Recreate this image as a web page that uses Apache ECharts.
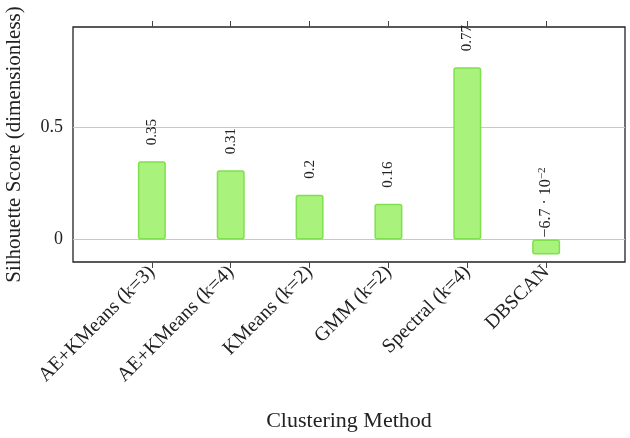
<!DOCTYPE html>
<html>
<head>
<meta charset="utf-8">
<script src="https://cdn.jsdelivr.net/npm/echarts@6/dist/echarts.min.js"></script>
<style>
  html, body { margin: 0; padding: 0; background: #fff; }
  #chart { width: 630px; height: 438px; }
</style>
</head>
<body>
<div id="chart"></div>
<script>
// data
const categories = ['AE+KMeans (k=3)', 'AE+KMeans (k=4)', 'KMeans (k=2)', 'GMM (k=2)', 'Spectral (k=4)', 'DBSCAN'];
const scores = [0.35, 0.31, 0.2, 0.16, 0.77, -0.067];
const yTicks = [0, 0.5];
const yMin = -0.1;
const yMax = 0.95;

const FONT = '"Liberation Serif", "DejaVu Serif", serif';

// one empty slot on each side, like the reference's padded x range
const axisCats = [''].concat(categories, ['']);
const barData = [null].concat(scores.map(v => ({
  value: v,
  label: { distance: v < 0 ? 2 : 16 }
})), [null]);

// small values shown as m · 10^e
const fmtValue = (v) => {
  if (v === 0 || Math.abs(v) >= 0.1) return String(v);
  const e = Math.floor(Math.log10(Math.abs(v)));
  const m = +(v / Math.pow(10, e)).toFixed(1);
  return `{n|${m < 0 ? '−' : ''}${Math.abs(m)} · 10}{s|−${-e}}`;
};

const edgeTick = (i) => i > 0 && i < axisCats.length - 1;

const chart = echarts.init(document.getElementById('chart'));
chart.setOption({
  animation: false,
  textStyle: { fontFamily: FONT },
  grid: {
    left: 73, right: 5, top: 27, bottom: 176,
    outerBoundsMode: 'none',
    containLabel: false,
    show: true, borderColor: '#222', borderWidth: 1.3, backgroundColor: 'transparent'
  },
  xAxis: [
    {
      type: 'category',
      data: axisCats,
      boundaryGap: false,
      position: 'bottom',
      name: 'Clustering Method',
      nameLocation: 'middle',
      nameGap: 148,
      nameTextStyle: { fontFamily: FONT, fontSize: 22, color: '#222' },
      axisLine: { show: false, onZero: false },
      axisTick: { show: true, inside: false, length: 6, interval: edgeTick, lineStyle: { color: '#444' } },
      axisLabel: {
        interval: 0, rotate: 45, margin: 7,
        fontFamily: FONT, fontSize: 20, color: '#222'
      },
      splitLine: { show: false }
    },
    {
      type: 'category',
      data: axisCats,
      boundaryGap: false,
      position: 'top',
      axisLine: { show: false, onZero: false },
      axisTick: { show: true, inside: false, length: 6, interval: edgeTick, lineStyle: { color: '#444' } },
      axisLabel: { show: false },
      splitLine: { show: false }
    }
  ],
  yAxis: [
    {
      type: 'value',
      min: yMin, max: yMax,
      position: 'left',
      name: 'Silhouette Score (dimensionless)',
      nameLocation: 'middle',
      nameGap: 48,
      nameTextStyle: { fontFamily: FONT, fontSize: 21, color: '#222' },
      axisLine: { show: false },
      axisTick: { show: true, inside: true, length: 6, customValues: yTicks, lineStyle: { color: '#444' } },
      axisLabel: { customValues: yTicks, margin: 10, fontFamily: FONT, fontSize: 18, color: '#222' },
      splitLine: { show: false }
    },
    {
      type: 'value',
      min: yMin, max: yMax,
      position: 'right',
      axisLine: { show: false },
      axisTick: { show: true, inside: true, length: 6, customValues: yTicks, lineStyle: { color: '#444' } },
      axisLabel: { show: false },
      splitLine: { show: false }
    }
  ],
  series: [
    {
      type: 'bar',
      xAxisIndex: 0,
      yAxisIndex: 0,
      data: barData,
      barWidth: 28,
      z: 3,
      itemStyle: { color: '#a9f37c', borderColor: '#7fe04e', borderWidth: 1.5, borderRadius: 2 },
      label: {
        show: true,
        position: 'top',
        rotate: 90,
        align: 'left',
        verticalAlign: 'middle',
        fontFamily: FONT,
        fontSize: 15,
        color: '#222',
        formatter: (p) => fmtValue(p.value),
        rich: {
          n: { fontFamily: FONT, fontSize: 16, color: '#222' },
          s: { fontFamily: FONT, fontSize: 11, color: '#222', padding: [0, 0, 8, 0] }
        }
      },
      markLine: {
        silent: true,
        symbol: 'none',
        z: 1,
        label: { show: false },
        lineStyle: { color: '#c8c8c8', type: 'solid', width: 1.2 },
        data: yTicks.map(t => ({ yAxis: t }))
      }
    }
  ]
});
</script>
</body>
</html>
